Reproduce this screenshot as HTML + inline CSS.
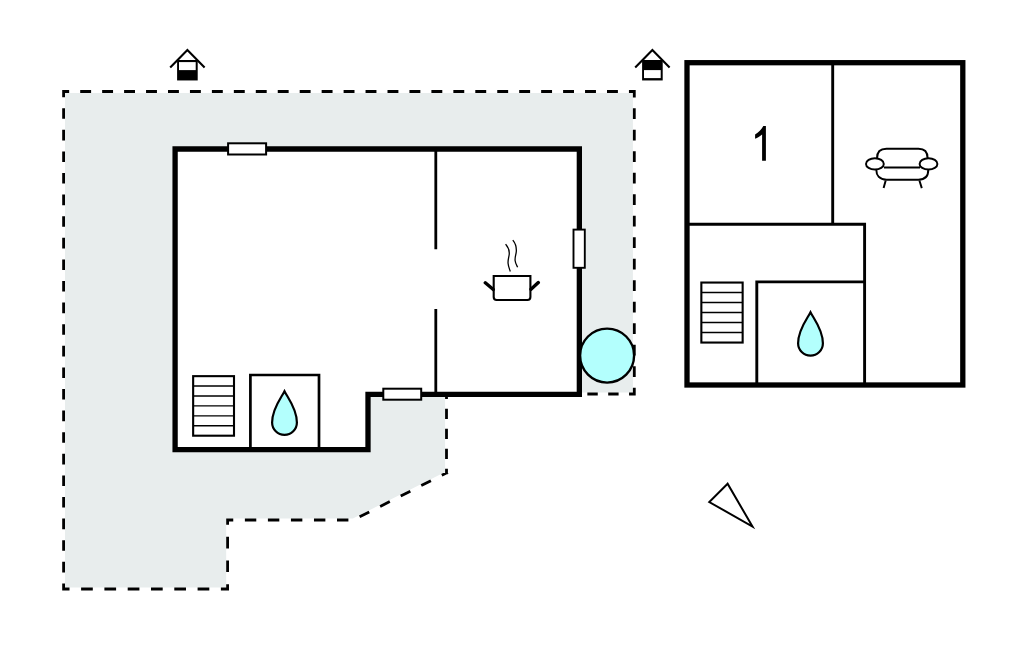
<!DOCTYPE html>
<html><head><meta charset="utf-8"><title>Floor plan</title>
<style>html,body{margin:0;padding:0;background:#fff;}svg{display:block;}</style>
</head><body>
<svg width="1024" height="652" viewBox="0 0 1024 652">
<rect width="1024" height="652" fill="#fff"/>
<polygon points="65,92.9 632.9,92.9 632.9,392.6 445.1,392.6 445.1,471.94 352.87,518.6 226.2,518.6 226.2,587.6 65,587.6" fill="#e8eded"/>
<path d="M62.20 91.50L69.15 91.50M80.20 91.50L91.10 91.50M102.15 91.50L113.05 91.50M124.10 91.50L135.00 91.50M146.05 91.50L156.95 91.50M168.00 91.50L178.90 91.50M189.95 91.50L200.85 91.50M211.90 91.50L222.80 91.50M233.85 91.50L244.75 91.50M255.80 91.50L266.70 91.50M277.75 91.50L288.65 91.50M299.70 91.50L310.60 91.50M321.65 91.50L332.55 91.50M343.60 91.50L354.50 91.50M365.55 91.50L376.45 91.50M387.50 91.50L398.40 91.50M409.45 91.50L420.35 91.50M431.40 91.50L442.30 91.50M453.35 91.50L464.25 91.50M475.30 91.50L486.20 91.50M497.25 91.50L508.15 91.50M519.20 91.50L530.10 91.50M541.15 91.50L552.05 91.50M563.10 91.50L574.00 91.50M585.05 91.50L595.95 91.50M607.00 91.50L617.90 91.50M628.95 91.50L635.70 91.50M634.30 90.10L634.30 97.50M634.30 108.30L634.30 119.00M634.30 129.80L634.30 140.50M634.30 151.30L634.30 162.00M634.30 172.80L634.30 183.50M634.30 194.30L634.30 205.00M634.30 215.80L634.30 226.50M634.30 237.30L634.30 248.00M634.30 258.80L634.30 269.50M634.30 280.30L634.30 291.00M634.30 301.80L634.30 312.50M634.30 323.30L634.30 334.00M634.30 344.80L634.30 355.50M634.30 366.30L634.30 377.00M634.30 387.80L634.30 395.40M635.70 394.00L629.05 394.00M618.60 394.00L608.20 394.00M597.75 394.00L587.35 394.00M576.90 394.00L566.50 394.00M556.05 394.00L545.65 394.00M535.20 394.00L524.80 394.00M514.35 394.00L503.95 394.00M493.50 394.00L483.10 394.00M472.65 394.00L462.25 394.00M451.80 394.00L445.10 394.00M446.50 392.60L446.50 399.03M446.50 408.80L446.50 419.00M446.50 428.77L446.50 438.97M446.50 448.74L446.50 458.94M446.50 468.71L446.50 474.20M447.85 472.17L441.81 475.22M430.90 480.74L421.26 485.62M410.35 491.14L400.71 496.02M389.80 501.54L380.16 506.41M369.25 511.93L359.61 516.81M348.40 520.00L337.00 520.00M325.37 520.00L313.97 520.00M302.34 520.00L290.94 520.00M279.31 520.00L267.91 520.00M256.28 520.00L244.88 520.00M233.25 520.00L226.20 520.00M227.60 518.60L227.60 524.70M227.60 536.80L227.60 548.40M227.60 560.50L227.60 572.10M227.60 584.20L227.60 590.40M229.00 589.00L220.90 589.00M209.30 589.00L197.60 589.00M186.00 589.00L174.30 589.00M162.70 589.00L151.00 589.00M139.40 589.00L127.70 589.00M116.10 589.00L104.40 589.00M92.80 589.00L81.10 589.00M69.50 589.00L62.20 589.00M63.60 590.40L63.60 583.40M63.60 572.40L63.60 561.80M63.60 550.80L63.60 540.20M63.60 529.20L63.60 518.60M63.60 507.60L63.60 497.00M63.60 486.00L63.60 475.40M63.60 464.40L63.60 453.80M63.60 442.80L63.60 432.20M63.60 421.20L63.60 410.60M63.60 399.60L63.60 389.00M63.60 378.00L63.60 367.40M63.60 356.40L63.60 345.80M63.60 334.80L63.60 324.20M63.60 313.20L63.60 302.60M63.60 291.60L63.60 281.00M63.60 270.00L63.60 259.40M63.60 248.40L63.60 237.80M63.60 226.80L63.60 216.20M63.60 205.20L63.60 194.60M63.60 183.60L63.60 173.00M63.60 162.00L63.60 151.40M63.60 140.40L63.60 129.80M63.60 118.80L63.60 108.20M63.60 97.20L63.60 90.10" stroke="#000" stroke-width="2.8" fill="none"/>
<path d="M170.20000000000002 67.4L187.4 49.9L204.6 67.4" fill="none" stroke="#000" stroke-width="2.1" stroke-linejoin="miter"/><rect x="177.10" y="60.0" width="20.6" height="20.45" fill="#000"/><rect x="179.00" y="62.1" width="16.7" height="8" fill="#fff"/>
<path d="M635.1999999999999 67.4L652.4 49.9L669.6 67.4" fill="none" stroke="#000" stroke-width="2.1" stroke-linejoin="miter"/><rect x="642.10" y="60.0" width="20.6" height="20.45" fill="#000"/><rect x="644.00" y="70.1" width="16.7" height="8" fill="#fff"/>
<!-- main building -->
<path d="M175.1 149H579.35V394.3H368V449.7H175.1Z" fill="#fff" stroke="#000" stroke-width="5.3" stroke-linejoin="miter"/>
<path d="M435.8 149V249.2M435.8 308.9V394.3" stroke="#000" stroke-width="2.8" fill="none"/>
<rect x="228.1" y="143.3" width="38" height="11.2" fill="#fff" stroke="#000" stroke-width="2"/>
<rect x="383.3" y="388.7" width="37.9" height="11" fill="#fff" stroke="#000" stroke-width="2"/>
<rect x="573.5" y="229.6" width="11.3" height="38.2" fill="#fff" stroke="#000" stroke-width="1.9"/>
<circle cx="607.1" cy="355.6" r="27" fill="#b3fffd" stroke="#000" stroke-width="2.4"/>
<rect x="193.15" y="376.15" width="40.85" height="59.55" fill="#fff" stroke="#000" stroke-width="2.1"/><path d="M193.15 386.07H234.0M193.15 396.00H234.0M193.15 405.92H234.0M193.15 415.85H234.0M193.15 425.77H234.0" stroke="#000" stroke-width="1.4" fill="none"/>
<path d="M250.4 449.7V375H319V449.7" fill="none" stroke="#000" stroke-width="2.7"/>
<path d="M284.5 391.3C287.60 397.54 296.90 408.46 296.90 422.50A12.4 12.4 0 0 1 272.10 422.50C272.10 408.46 281.40 397.54 284.5 391.3Z" fill="#b3fffd" stroke="#000" stroke-width="2.2"/>
<!-- pot -->
<path d="M505.6 244.1C508.5 247.5 509.6 251 509.2 254.5C508.8 257.5 507.7 260 508.1 263.5C508.4 266.8 509.5 269 510.3 271.5M512.8 240.2C515.5 243.5 516.6 247.5 516.3 251.5C516 255 514.8 257 515.1 260.5C515.4 263.5 516.6 265.3 517.6 267.2" fill="none" stroke="#000" stroke-width="1.3"/>
<path d="M493.7 276H530.4V297A3 3 0 0 1 527.4 300H496.7A3 3 0 0 1 493.7 297Z" fill="#fff" stroke="#000" stroke-width="2.1"/>
<path d="M485.3 282.8L493.3 289.5M538.3 282.6L531 289.3" stroke="#000" stroke-width="3.4" stroke-linecap="round" fill="none"/>
<!-- right building -->
<rect x="687" y="62.7" width="275.8" height="322.3" fill="#fff" stroke="#000" stroke-width="5.3"/>
<path d="M832.7 62.7V224.2M687 224.2H864.6V385M756.8 385V281.9H864.6" stroke="#000" stroke-width="2.9" fill="none"/>
<rect x="701.35" y="282.55" width="41.3" height="60" fill="#fff" stroke="#000" stroke-width="2.1"/><path d="M701.35 292.55H742.65M701.35 302.55H742.65M701.35 312.55H742.65M701.35 322.55H742.65M701.35 332.55H742.65" stroke="#000" stroke-width="1.4" fill="none"/>
<path d="M810.5 312.3C813.60 318.50 822.90 329.35 822.90 343.30A12.4 12.4 0 0 1 798.10 343.30C798.10 329.35 807.40 318.50 810.5 312.3Z" fill="#b3fffd" stroke="#000" stroke-width="2.2"/>
<path d="M765.9 126.05V160.75H762.1V134.4C760 136.3 757.5 137.6 755.1 138.7V134.5C758.5 132.5 761.5 129.5 763.3 126.05Z" fill="#000"/>
<!-- sofa -->
<g fill="none" stroke="#000" stroke-width="1.95">
<path d="M877 158.2C877 152.5 880 148.8 886.5 148.8H918.5C925 148.8 927.6 152.5 927.6 158.2"/>
<path d="M884 167.4H920"/>
<path d="M876.3 169.8C876.3 175.5 879.5 179.7 886.5 179.7H918.5C925.5 179.7 928.3 175.5 928.3 169.8"/>
<ellipse cx="874.9" cy="163.9" rx="8.9" ry="5.7" fill="#fff"/>
<ellipse cx="928.5" cy="163.9" rx="8.9" ry="5.7" fill="#fff"/>
<path d="M885.7 180.5L883.6 188.1M919.4 180.5L921.8 188.1"/>
</g>
<!-- compass triangle -->
<path d="M727.6 483.7L709.3 502L752.5 526.6Z" fill="#fff" stroke="#000" stroke-width="2"/>
</svg>
</body></html>
